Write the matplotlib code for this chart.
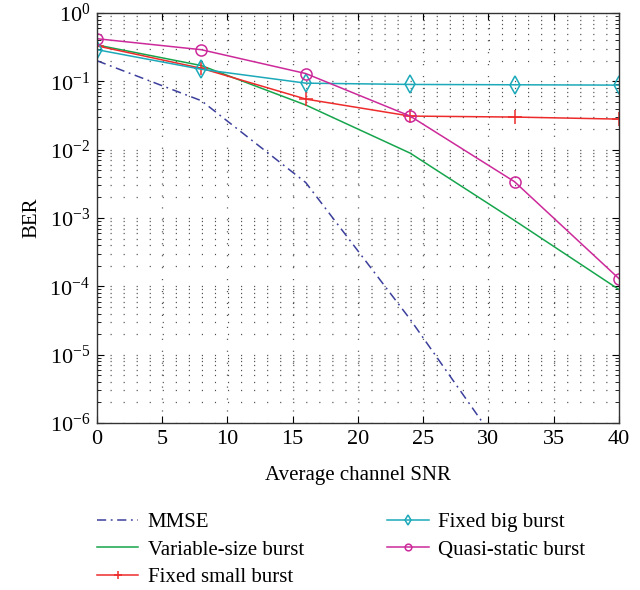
import numpy as np
from matplotlib import pyplot as plt
from matplotlib.ticker import MultipleLocator, LogLocator, NullFormatter

plt.rcParams['font.family'] = 'Liberation Serif'
plt.rcParams['mathtext.fontset'] = 'custom'
plt.rcParams['mathtext.rm'] = 'Liberation Serif'
plt.rcParams['mathtext.it'] = 'Liberation Serif:italic'

snr = [0, 8, 16, 24, 32, 40]
snr_mmse = [0, 8, 16, 24, 32]

ber_mmse = [0.2, 0.052, 3.3e-3, 3.3e-5, 2.2e-7]
ber_variable = [0.34, 0.17, 0.045, 8.9e-3, 9.2e-4, 9.0e-5]
ber_small = [0.33, 0.155, 0.055, 0.031, 0.030, 0.028]
ber_big = [0.29, 0.15, 0.094, 0.090, 0.089, 0.088]
ber_quasi = [0.42, 0.29, 0.13, 0.031, 3.4e-3, 1.3e-4]

fig = plt.figure(figsize=(6.4, 5.9), dpi=100)
ax = fig.add_axes([0.1516, 0.283, 0.8154, 0.695])

ax.set_xlim(0, 40)
ax.set_ylim(1e-6, 1)

# matlab-like dotted grid: horizontal lines dotted once per snr unit,
# vertical lines only at the major x ticks
unit_pt = (0.8154 * 6.4 * 72) / 40
lw_grid = 0.9
dot_h = (0, (0.9, unit_pt / lw_grid - 0.9))
dot_v = (0, (0.9, 8.6 / lw_grid - 0.9))
decades = 10.0 ** np.arange(-6, 1)
for d in decades:
    for k in range(1, 10):
        yv = d * k
        if yv <= 1:
            ax.axhline(yv, linestyle=dot_h, color='0.3', lw=lw_grid, zorder=0.5)
for xv in range(5, 40, 5):
    ax.axvline(xv, linestyle=dot_v, color='0.3', lw=lw_grid, zorder=0.5)

ax.semilogy(snr_mmse, ber_mmse, linestyle=(0, (6, 3, 1.2, 3)), color='#3c3f9c', lw=1.1, label='MMSE')
ax.semilogy(snr, ber_variable, '-', color='#16a54c', lw=1.1, label='Variable-size burst')
ax.semilogy(snr, ber_small, '-', marker='+', ms=10, mew=1.1, color='#ee2b2b', lw=1.1,
            label='Fixed small burst')
ax.semilogy(snr, ber_big, '-', marker='d', ms=9, mfc='none', mew=1.1, color='#1ca9b9', lw=1.1,
            label='Fixed big burst')
ax.semilogy(snr, ber_quasi, '-', marker='o', ms=8, mfc='none', mew=1.1, color='#cc2a9a', lw=1.1,
            label='Quasi-static burst')

ax.set_xlim(0, 40)
ax.set_ylim(1e-6, 1)
ax.xaxis.set_major_locator(MultipleLocator(5))
ax.yaxis.set_major_locator(LogLocator(base=10, numticks=10))
ax.yaxis.set_minor_locator(LogLocator(base=10, subs=np.arange(2, 10), numticks=20))
ax.yaxis.set_minor_formatter(NullFormatter())

ax.tick_params(which='both', direction='in', top=True, right=True, labelsize=16)
ax.tick_params(which='major', length=5, width=0.8, pad=5)
ax.tick_params(axis='y', which='minor', length=3, width=0.6)
for s in ax.spines.values():
    s.set_linewidth(1.0)
    s.set_color('0.2')

ax.set_xlabel('Average channel SNR', fontsize=15, labelpad=12)
ax.set_ylabel('BER', fontsize=15, labelpad=6)

fig.legend(loc='upper left', bbox_to_anchor=(0.122, 0.163), ncol=2, frameon=False,
           fontsize=15, handlelength=2.0, columnspacing=4.0, labelspacing=0.38,
           handletextpad=0.45, markerscale=0.6)

fig.savefig('out.png', dpi=100)
